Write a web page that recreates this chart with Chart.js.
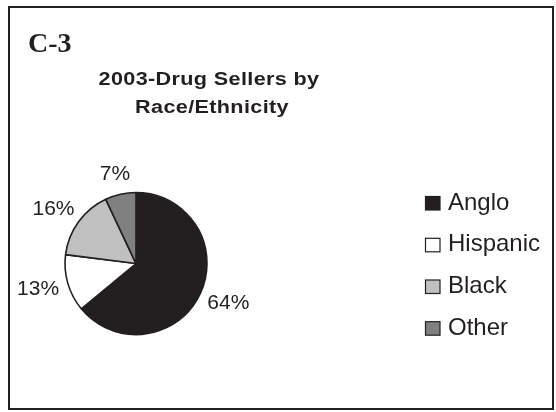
<!DOCTYPE html>
<html>
<head>
<meta charset="utf-8">
<script src="https://cdn.jsdelivr.net/npm/chart.js@4/dist/chart.umd.min.js"></script>
<style>
  html, body { margin: 0; padding: 0; background: #ffffff; }
  #wrap { position: absolute; left: 0; top: 0; width: 556px; height: 412px; }
</style>
</head>
<body>
<div id="wrap"><canvas id="c" width="556" height="412"></canvas></div>
<script>
// ---- data ----
const panelLabel = "C-3";
const titleLines = ["2003-Drug Sellers by", "Race/Ethnicity"];
const categories = ["Anglo", "Hispanic", "Black", "Other"];
const values = [64, 13, 16, 7];
const valueLabels = ["64%", "13%", "16%", "7%"];
const sliceColors = ["#231f20", "#ffffff", "#c0c0c0", "#808080"];

const INK = "#231f20";

const decorPlugin = {
  id: "decor",
  beforeDraw(chart) {
    const ctx = chart.ctx;
    ctx.save();
    ctx.fillStyle = "#ffffff";
    ctx.fillRect(0, 0, chart.width, chart.height);
    // frame
    ctx.strokeStyle = INK;
    ctx.lineWidth = 2;
    ctx.strokeRect(9, 7, 544, 402);
    // panel label
    ctx.fillStyle = INK;
    ctx.font = "bold 28px 'Liberation Serif', 'Times New Roman', serif";
    ctx.textAlign = "left";
    ctx.textBaseline = "alphabetic";
    ctx.fillText(panelLabel, 28, 52);
    // title (wide bold sans, horizontally stretched)
    ctx.font = "bold 18px 'Liberation Sans', Arial, sans-serif";
    ctx.textAlign = "center";
    if ("letterSpacing" in ctx) ctx.letterSpacing = "0.3px";
    const sx = 1.2;
    ctx.save();
    ctx.scale(sx, 1);
    ctx.fillText(titleLines[0], 209 / sx, 85);
    ctx.fillText(titleLines[1], 212 / sx, 112.5);
    ctx.restore();
    if ("letterSpacing" in ctx) ctx.letterSpacing = "0px";
    ctx.restore();
  },
  afterDatasetsDraw(chart) {
    const ctx = chart.ctx;
    const meta = chart.getDatasetMeta(0);
    ctx.save();
    // value labels outside the slices
    ctx.font = "21px 'Liberation Sans', Arial, sans-serif";
    ctx.fillStyle = INK;
    ctx.textAlign = "center";
    ctx.textBaseline = "middle";
    meta.data.forEach((arc, i) => {
      const p = arc.getProps(["x", "y", "startAngle", "endAngle", "outerRadius"], true);
      const mid = (p.startAngle + p.endAngle) / 2;
      const dx = Math.cos(mid), dy = Math.sin(mid);
      const txt = valueLabels[i];
      const w = ctx.measureText(txt).width;
      const h = 22;
      const R = p.outerRadius + 10;
      const cx = p.x + R * dx + dx * w / 2;
      const cy = p.y + R * dy + dy * h / 2;
      ctx.fillText(txt, cx, cy);
    });
    // legend
    const rowY = [203.5, 245.3, 287, 328.7];
    ctx.font = "24px 'Liberation Sans', Arial, sans-serif";
    ctx.textAlign = "left";
    ctx.textBaseline = "middle";
    categories.forEach((name, i) => {
      const y = rowY[i];
      ctx.fillStyle = sliceColors[i];
      ctx.fillRect(425.5, y - 7, 14.5, 13.5);
      ctx.strokeStyle = INK;
      ctx.lineWidth = 1.2;
      ctx.strokeRect(425.5, y - 7, 14.5, 13.5);
      ctx.fillStyle = INK;
      ctx.fillText(name, 448, y - 0.5);
    });
    ctx.restore();
  }
};

new Chart(document.getElementById("c"), {
  type: "pie",
  data: {
    labels: categories,
    datasets: [{
      data: values,
      backgroundColor: sliceColors,
      borderColor: INK,
      borderWidth: 1.6,
      hoverOffset: 0
    }]
  },
  options: {
    responsive: false,
    animation: false,
    devicePixelRatio: 1,
    layout: { padding: { left: 64.2, right: 348.2, top: 191.7, bottom: 76.6 } },
    plugins: {
      legend: { display: false },
      title: { display: false },
      tooltip: { enabled: false }
    }
  },
  plugins: [decorPlugin]
});
</script>
</body>
</html>
